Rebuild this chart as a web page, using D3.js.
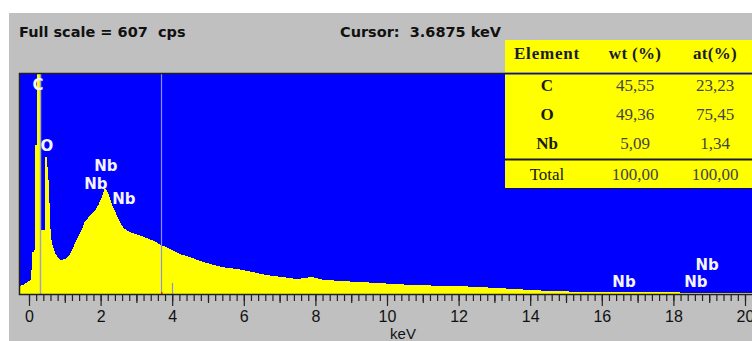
<!DOCTYPE html>
<html>
<head>
<meta charset="utf-8">
<script src="https://cdn.jsdelivr.net/npm/d3@7"></script>
<style>
  body { margin: 0; background: #fff; overflow: hidden; }
  svg { display: block; }
</style>
</head>
<body>
<div id="chart"></div>
<script>
// Spektrum: Energie (keV) und Zählrate (cps)
const energyKeV = [-0.25, -0.17, -0.03, 0.056, 0.098, 0.154, 0.18, 0.215, 0.229, 0.307, 0.321, 0.447,
  0.461, 0.495, 0.517, 0.539, 0.573, 0.609, 0.67, 0.754, 0.866, 1.006, 1.10, 1.20, 1.285, 1.38, 1.48,
  1.56, 1.68, 1.82, 1.94, 2.04, 2.12, 2.18, 2.23, 2.30, 2.40, 2.51, 2.64, 2.81, 3.04, 3.28, 3.49, 3.70,
  3.94, 4.22, 4.50, 4.78, 5.06, 5.39, 5.81, 6.23, 6.65, 7.07, 7.49, 7.88, 8.24, 8.69, 9.25, 9.80,
  10.50, 11.34, 12.18, 13.02, 13.85, 14.61, 15.45, 17.07, 18.35, 18.46, 20.4];
const countsCps = [22, 25, 34, 39, 117, 117, 411, 411, 607, 607, 177, 177,
  379, 379, 351, 330, 251, 158, 130, 108, 94, 96, 103, 121, 140, 158, 179,
  200, 213, 227, 246, 268, 292, 285, 273, 251, 229, 204, 182, 171, 163, 155, 146, 135,
  124, 110, 102, 91, 83, 74, 69, 61, 52, 47, 41, 47, 39, 36, 33, 30,
  26, 23, 21, 17, 12, 8, 6, 5, 4, 2, 2];

// Peak-Beschriftungen
const peakNames = ["C", "O", "Nb", "Nb", "Nb", "Nb", "Nb", "Nb"];
const peakKeV = [0.25, 0.50, 2.15, 1.87, 2.65, 16.62, 18.63, 18.94];
const peakCps = [577, 408, 353, 303, 262, 33, 33, 80];

const fullScale = 607;
const cursorKeV = 3.6875;
const markerKeV = [0.32];
const shortMarkerKeV = [4.0];
const majorTicks = d3.range(0, 20.01, 2);

// Quantifizierungstabelle
const tableHeader = ["Element", "wt (%)", "at(%)"];
const elements = ["C", "O", "Nb"];
const wtPercent = [45.55, 49.36, 5.09];
const atPercent = [23.23, 75.45, 1.34];
const totalWt = 100.00, totalAt = 100.00;

// Layout
const width = 752, height = 341;
const plot = {left: 20, right: 760, top: 74, bottom: 294};

const svg = d3.select("#chart").append("svg")
  .attr("width", width)
  .attr("height", height);

// grauer Hintergrund
svg.append("rect")
  .attr("x", 9).attr("y", 13)
  .attr("width", width).attr("height", height)
  .attr("fill", "#c0c0c0");

const x = d3.scaleLinear().domain([0, 20]).range([29, 745]);
const y = d3.scaleLinear().domain([0, fullScale]).range([plot.bottom, plot.top]);

svg.append("clipPath").attr("id", "plotClip")
  .append("rect")
  .attr("x", plot.left).attr("y", plot.top)
  .attr("width", plot.right - plot.left).attr("height", plot.bottom - plot.top);

// blauer Plotbereich
svg.append("rect")
  .attr("x", plot.left).attr("y", plot.top)
  .attr("width", plot.right - plot.left).attr("height", plot.bottom - plot.top)
  .attr("fill", "#0000ff");

const spectrum = energyKeV.map((e, i) => ({e: e, c: countsCps[i]}));

const area = d3.area()
  .x(d => x(d.e))
  .y0(y(0))
  .y1(d => y(d.c));

const g = svg.append("g").attr("clip-path", "url(#plotClip)");

g.append("path")
  .datum(spectrum)
  .attr("d", area)
  .attr("fill", "#ffff00")
  .attr("shape-rendering", "crispEdges");

// Markerlinien
g.selectAll(".marker")
  .data(markerKeV)
  .enter().append("line")
  .attr("x1", d => Math.round(x(d)) + 0.5).attr("x2", d => Math.round(x(d)) + 0.5)
  .attr("y1", plot.top).attr("y2", plot.bottom)
  .attr("stroke", "#a4a4b4").attr("stroke-width", 1.5);

g.append("line")
  .attr("x1", Math.round(x(cursorKeV)) + 0.5).attr("x2", Math.round(x(cursorKeV)) + 0.5)
  .attr("y1", plot.top).attr("y2", plot.bottom)
  .attr("stroke", "#8f8fe8").attr("stroke-width", 1.2);

g.append("rect")
  .attr("x", Math.round(x(cursorKeV))).attr("y", plot.bottom - 2)
  .attr("width", 1.5).attr("height", 2)
  .attr("fill", "#ff3000");

g.selectAll(".short-marker")
  .data(shortMarkerKeV)
  .enter().append("line")
  .attr("x1", d => Math.round(x(d)) + 0.5).attr("x2", d => Math.round(x(d)) + 0.5)
  .attr("y1", plot.bottom - 11).attr("y2", plot.bottom)
  .attr("stroke", "#8f8fe8").attr("stroke-width", 1.2);

// Peak-Labels
g.selectAll(".peak-label")
  .data(peakNames)
  .enter().append("text")
  .attr("x", (d, i) => x(peakKeV[i]))
  .attr("y", (d, i) => y(peakCps[i]))
  .attr("text-anchor", "middle")
  .attr("dominant-baseline", "central")
  .style("font-family", "'DejaVu Sans', sans-serif")
  .style("font-weight", "bold")
  .style("font-size", "15px")
  .style("fill", "#f4f4ff")
  .text(d => d);

// Rahmen
svg.append("path")
  .attr("d", `M${plot.right},${plot.top - 0.5}H${plot.left - 0.5}V${plot.bottom + 0.5}H${plot.right}`)
  .attr("fill", "none")
  .attr("stroke", "#202020")
  .attr("stroke-width", 1.5);

// Achse
const axisG = svg.append("g").attr("transform", `translate(0,${plot.bottom + 1})`);

axisG.append("g")
  .call(d3.axisBottom(x).tickValues(d3.range(0, 20.01, 0.2)).tickSize(6).tickFormat(""))
  .call(a => a.select(".domain").remove());

axisG.append("g")
  .call(d3.axisBottom(x).tickValues(d3.range(1, 20, 2)).tickSize(8).tickFormat(""))
  .call(a => a.select(".domain").remove());

axisG.append("g")
  .call(d3.axisBottom(x).tickValues(majorTicks).tickSize(11).tickPadding(5).tickFormat(d3.format("d")))
  .call(a => a.select(".domain").remove())
  .call(a => a.selectAll("text")
    .style("font-family", "'Liberation Sans', Arial, sans-serif")
    .style("font-size", "16px")
    .style("fill", "#111"));

axisG.selectAll(".tick line").attr("stroke", "#222").attr("stroke-width", 1.2);

svg.append("text")
  .attr("x", 403).attr("y", 339)
  .attr("text-anchor", "middle")
  .style("font-family", "'Liberation Sans', Arial, sans-serif")
  .style("font-size", "15px")
  .style("fill", "#111")
  .text("keV");

// Kopfzeile
const headFont = sel => sel
  .style("font-family", "'DejaVu Sans', sans-serif")
  .style("font-weight", "bold")
  .style("font-size", "14.5px")
  .style("fill", "#111")
  .style("white-space", "pre");

svg.append("text").attr("x", 19).attr("y", 37)
  .call(headFont)
  .text(`Full scale = ${fullScale}  cps`);

svg.append("text").attr("x", 340).attr("y", 37)
  .call(headFont)
  .text(`Cursor:  ${cursorKeV.toFixed(4)} keV`);

// Tabelle
const fmt = v => d3.format(".2f")(v).replace(".", ",");
const colX = [547, 635, 715];
const tableLeft = 505;

svg.append("rect")
  .attr("x", tableLeft).attr("y", 40)
  .attr("width", plot.right - tableLeft).attr("height", 32)
  .attr("fill", "#ffff00");

svg.append("rect")
  .attr("x", tableLeft).attr("y", plot.top + 0.5)
  .attr("width", plot.right - tableLeft).attr("height", 188 - plot.top)
  .attr("fill", "#ffff00");

svg.append("line")
  .attr("x1", tableLeft).attr("x2", plot.right)
  .attr("y1", 159.5).attr("y2", 159.5)
  .attr("stroke", "#1a1a1a").attr("stroke-width", 2.2);

svg.append("line")
  .attr("x1", tableLeft).attr("x2", plot.right)
  .attr("y1", 188.5).attr("y2", 188.5)
  .attr("stroke", "#101050").attr("stroke-width", 1.2);

const tableFont = (sel, bold) => sel
  .attr("text-anchor", "middle")
  .attr("dominant-baseline", "central")
  .style("font-family", "'Liberation Serif', 'Times New Roman', serif")
  .style("font-size", "17px")
  .style("font-weight", bold ? "bold" : "normal");

svg.selectAll(".th")
  .data(tableHeader)
  .enter().append("text")
  .attr("x", (d, i) => colX[i]).attr("y", 53)
  .call(tableFont, true)
  .style("letter-spacing", (d, i) => i === 0 ? "0.8px" : "0.3px")
  .style("fill", "#1a1a30")
  .text(d => d);

const rows = elements.map((el, i) => [el, fmt(wtPercent[i]), fmt(atPercent[i])]);
rows.push(["Total", fmt(totalWt), fmt(totalAt)]);
const rowY = [85, 114, 143, 174];

rows.forEach((r, i) => {
  svg.selectAll(null)
    .data(r)
    .enter().append("text")
    .attr("x", (d, j) => colX[j]).attr("y", rowY[i])
    .call(tableFont, false)
    .style("font-weight", (d, j) => (j === 0 && i < elements.length) ? "bold" : "normal")
    .style("fill", (d, j) => j === 0 ? "#1a1a1a" : "#444")
    .text(d => d);
});
</script>
</body>
</html>
